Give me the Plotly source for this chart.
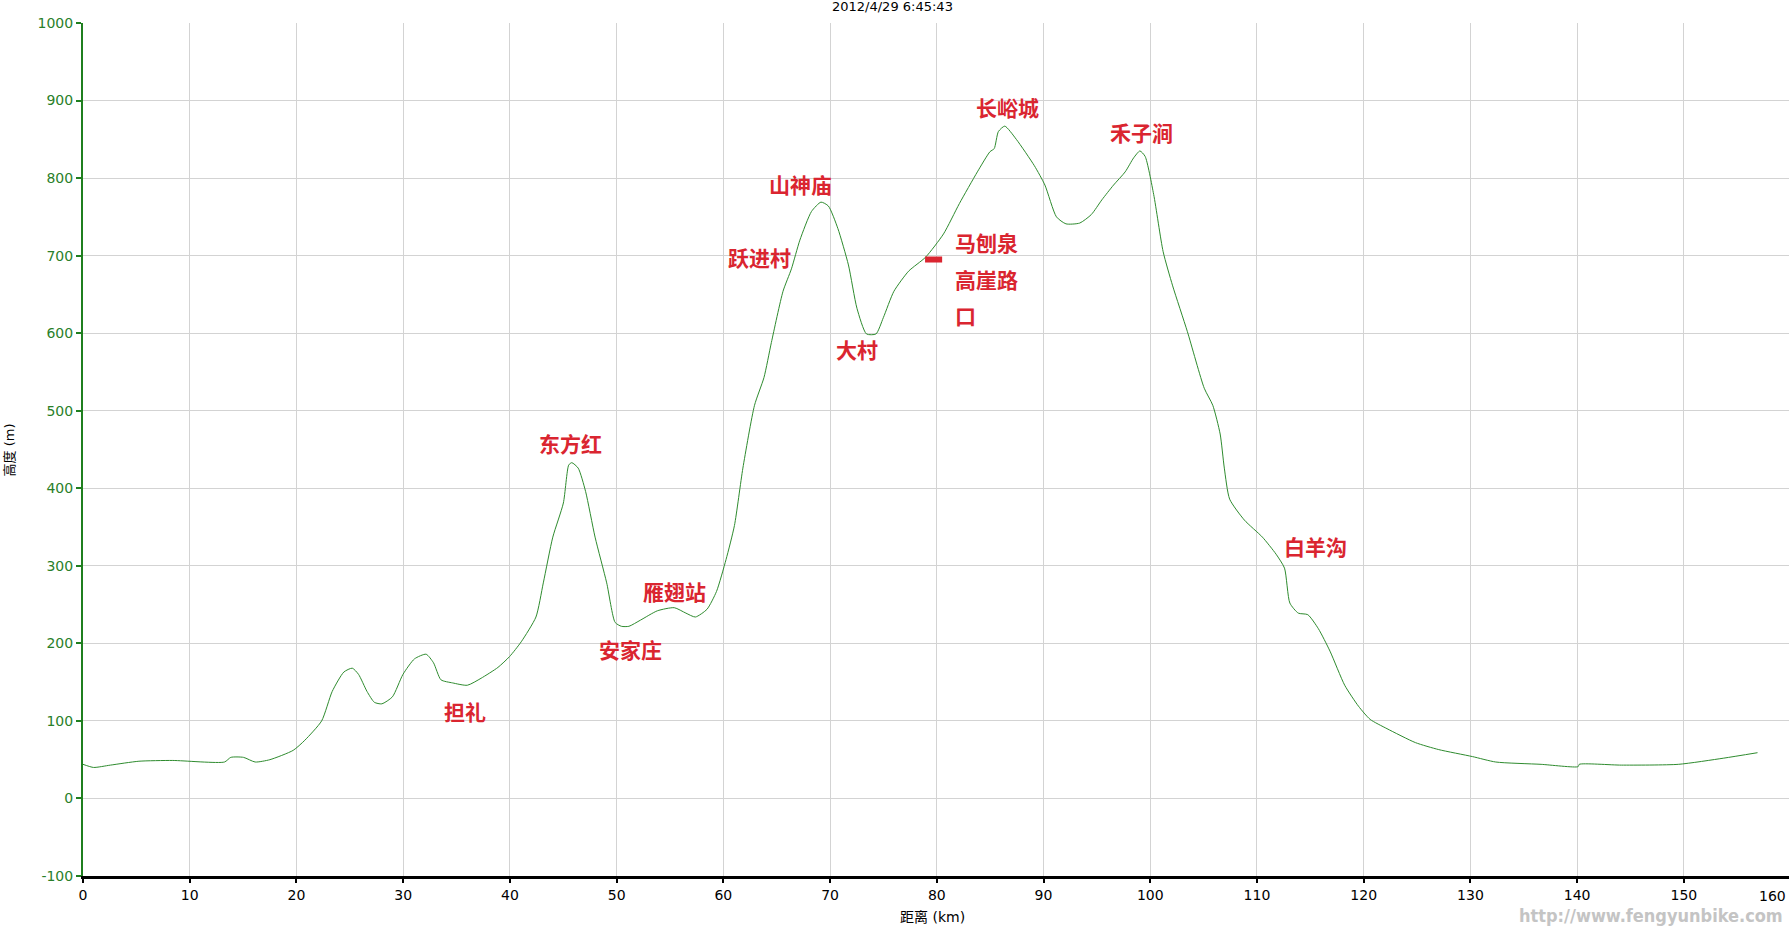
import plotly.graph_objects as go

# elevation profile
dist_km = [0, 0.99, 2.57, 5.24, 8.41, 13.26, 13.85, 15.04, 16.13, 17.51, 19.69, 20.78, 22.36,
           23.35, 24.44, 25.23, 25.82, 26.61, 27.30, 28.00, 28.99, 29.98, 31.06, 32.15, 32.84,
           33.54, 34.63, 36.01, 37.30, 38.88, 39.97, 41.06, 42.44, 43.13, 44.02, 45.01, 45.51,
           45.80, 46.40, 47.09, 47.98, 49.07, 49.86, 50.45, 51.15, 52.24, 53.82, 55.40, 56.49,
           57.38, 58.47, 59.36, 60.25, 61.04, 61.83, 62.92, 63.81, 64.50, 65.59, 66.38, 67.17,
           68.26, 69.15, 69.84, 70.73, 71.72, 72.52, 73.41, 74.30, 74.99, 75.98, 77.36, 78.95,
           80.63, 82.11, 83.80, 84.98, 85.38, 85.77, 86.37, 87.45, 89.14, 90.13, 91.21, 92.10,
           93.39, 94.48, 95.47, 96.56, 97.65, 98.44, 99.03, 99.52, 100.32, 101.21, 102.10,
           103.48, 105.06, 105.86, 106.55, 106.94, 107.44, 108.82, 110.51, 111.79, 112.58,
           113.08, 113.87, 114.76, 115.75, 116.84, 118.22, 119.51, 120.60, 122.18, 124.85,
           127.03, 130.19, 132.37, 136.62, 140.09, 140.19, 144.14, 149.48, 153.74, 156.90]
elev_m = [44, 40, 43, 48, 49, 47, 53, 53, 47, 50, 62, 75, 100, 138, 163,
          168, 160, 138, 124, 122, 131, 160, 180, 186, 175, 153, 149, 146, 155,
          169, 183, 202, 234, 278, 337, 381, 430, 433, 426, 396, 337, 278, 227,
          222, 222, 230, 242, 246, 239, 234, 244, 267, 308, 352, 426, 507, 543,
          588, 654, 683, 720, 757, 769, 764, 735, 688, 632, 599, 599, 620, 654,
          680, 698, 728, 767, 808, 834, 838, 860, 867, 850, 816, 791, 750, 741,
          742, 753, 772, 791, 808, 826, 835, 828, 779, 705, 661, 602, 529,
          507, 470, 426, 386, 359, 337, 315, 297, 252, 239, 237, 219,
          190, 146, 119, 102, 90, 72, 63, 54, 47, 44, 41, 44,
          43, 44, 52, 59]

# tick labels
y_ticks = [-100, 0, 100, 200, 300, 400, 500, 600, 700, 800, 900, 1000]
y_tick_text = ["-100", "0", "100", "200", "300", "400", "500", "600", "700", "800", "900", "1000"]
x_ticks = [0, 10, 20, 30, 40, 50, 60, 70, 80, 90, 100, 110, 120, 130, 140, 150]
x_last_label = "160"   # sits just past the right edge, drawn pushed inside

# place names and where they sit on the chart
place_names = ["东方红", "担礼", "安家庄", "雁翅站", "跃进村", "山神庙", "大村",
               "长峪城", "禾子涧", "白羊沟"]
place_km = [45.7, 35.8, 51.3, 55.4, 63.4, 67.2, 72.5, 86.6, 99.2, 115.5]
place_m = [458, 113, 193, 267, 698, 792, 579, 892, 860, 325]

stop_lines = ["马刨泉", "高崖路", "口"]
stop_km = 81.5
stop_m = [717, 670, 623]

marker_km = [78.9, 80.5]
marker_m = [695, 695]

RED = "#da2530"
GREEN = "#2e8b2e"

fig = go.Figure()
fig.add_trace(go.Scatter(
    x=dist_km, y=elev_m, mode="lines",
    line=dict(color=GREEN, width=1, shape="spline", smoothing=0.6),
    hoverinfo="x+y",
))
fig.add_trace(go.Scatter(
    x=marker_km, y=marker_m, mode="lines",
    line=dict(color=RED, width=6),
    hoverinfo="skip",
))

label_font = dict(family="Noto Sans CJK SC", size=21, color=RED)
for name, xk, ym in zip(place_names, place_km, place_m):
    fig.add_annotation(x=xk, y=ym, text="<b>" + name + "</b>", showarrow=False,
                       font=label_font, xanchor="center", yanchor="middle")
for line_txt, ym in zip(stop_lines, stop_m):
    fig.add_annotation(x=stop_km, y=ym, text="<b>" + line_txt + "</b>", showarrow=False,
                       font=label_font, xanchor="left", yanchor="middle")

# last x tick label, kept inside the right edge
fig.add_annotation(xref="paper", yref="paper", x=1, y=0, text=x_last_label,
                   showarrow=False, xanchor="right", yanchor="top", xshift=-1, yshift=-10,
                   font=dict(family="DejaVu Sans", size=14, color="#000"))

# axis titles, timestamp and watermark
fig.add_annotation(xref="paper", yref="paper", x=-0.0428, y=0.5, text="高度 (m)",
                   textangle=-90, showarrow=False, xanchor="center", yanchor="middle",
                   font=dict(family="DejaVu Sans, Noto Sans CJK SC", size=13, color="#000"))
fig.add_annotation(xref="paper", yref="paper", x=0.498, y=-0.048, text="距离 (km)",
                   showarrow=False, yanchor="middle",
                   font=dict(family="DejaVu Sans, Noto Sans CJK SC", size=14, color="#000"))
fig.add_annotation(xref="paper", yref="paper", x=0.5, y=1.0199, text="2012/4/29 6:45:43",
                   showarrow=False, xanchor="center", yanchor="middle",
                   xshift=892 - 936,
                   font=dict(family="DejaVu Sans", size=13, color="#000"))
fig.add_annotation(xref="paper", yref="paper", x=0.9977, y=-0.046, xanchor="right",
                   yanchor="middle", text="<b>http://www.fengyunbike.com</b>", showarrow=False,
                   font=dict(family="Liberation Sans Narrow, DejaVu Sans Condensed", size=18,
                             color="#c4c4c4"))

fig.update_layout(
    width=1789, height=931,
    margin=dict(l=83, r=0, t=23, b=55),
    plot_bgcolor="white", paper_bgcolor="white",
    showlegend=False,
)
fig.update_xaxes(
    range=[0, 159.85], tickvals=x_ticks, automargin=False,
    showgrid=True, gridcolor="#d3d3d3", gridwidth=1,
    showline=True, linecolor="#000", linewidth=3,
    ticks="outside", ticklen=4, tickcolor="#000", tickwidth=2,
    tickfont=dict(family="DejaVu Sans", size=14, color="#000"),
    zeroline=False,
)
fig.update_yaxes(
    range=[-100, 1000], tickvals=y_ticks, ticktext=y_tick_text, automargin=False,
    showgrid=True, gridcolor="#d3d3d3", gridwidth=1,
    showline=True, linecolor="#1f7f1f", linewidth=2,
    ticks="outside", ticklen=5, tickcolor="#1f7f1f", tickwidth=2,
    tickfont=dict(family="DejaVu Sans", size=14, color="#2a7f2a"),
    zeroline=False,
)

# drop the browser's default page margin so the figure sits at the window corner
fig.write_html("out.html", config={"displayModeBar": False},
               post_script="document.body.style.margin='0px';")
